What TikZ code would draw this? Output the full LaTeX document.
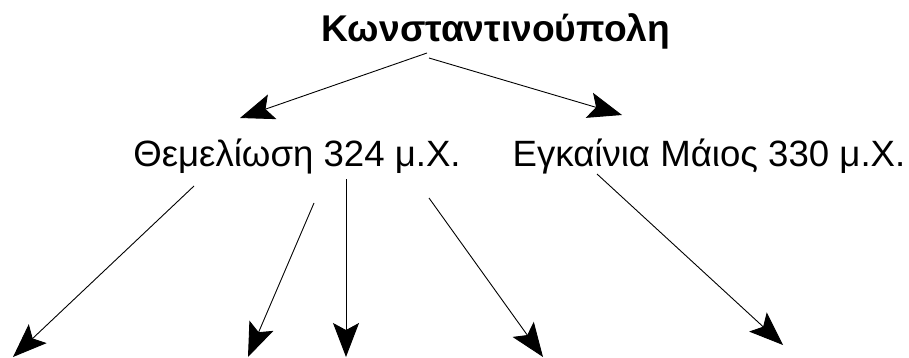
\documentclass[tikz,border=0pt]{standalone}
\usepackage{fontspec}
\setmainfont{Liberation Sans}
\usetikzlibrary{arrows.meta}
\begin{document}
\begin{tikzpicture}[x=1pt,y=-1pt,
  lbl/.style={anchor=base,inner sep=0pt,font=\fontsize{36.6}{40}\selectfont},
  conn/.style={line width=0.9pt,-{Stealth[length=34pt,width=26pt,inset=7pt]}}]
\useasboundingbox (0,0) rectangle (909,358);
\node[lbl,font=\fontsize{37.2}{40}\selectfont\bfseries] (title) at (496,41.5) {Κωνσταντινούπολη};
\node[lbl] (found) at (297,167) {Θεμελίωση 324 μ.Χ.};
\node[lbl] (inaug) at (709,167) {Εγκαίνια Μάιος 330 μ.Χ.};
% start points
\coordinate (s1) at (427,53);
\coordinate (s2) at (429,58);
\coordinate (f1) at (194,186);
\coordinate (f2) at (314,203);
\coordinate (f3) at (346,179);
\coordinate (f4) at (429,198);
\coordinate (i1) at (597,174);
% free ends
\coordinate (e1) at (240,118);
\coordinate (e2) at (622,115);
\coordinate (b1) at (13,357);
\coordinate (b2) at (248,357);
\coordinate (b3) at (346,357);
\coordinate (b4) at (543,357);
\coordinate (b5) at (783,345);
\draw[conn] (s1) -- (e1);
\draw[conn] (s2) -- (e2);
\draw[conn] (f1) -- (b1);
\draw[conn] (f2) -- (b2);
\draw[conn] (f3) -- (b3);
\draw[conn] (f4) -- (b4);
\draw[conn] (i1) -- (b5);
\end{tikzpicture}
\end{document}
